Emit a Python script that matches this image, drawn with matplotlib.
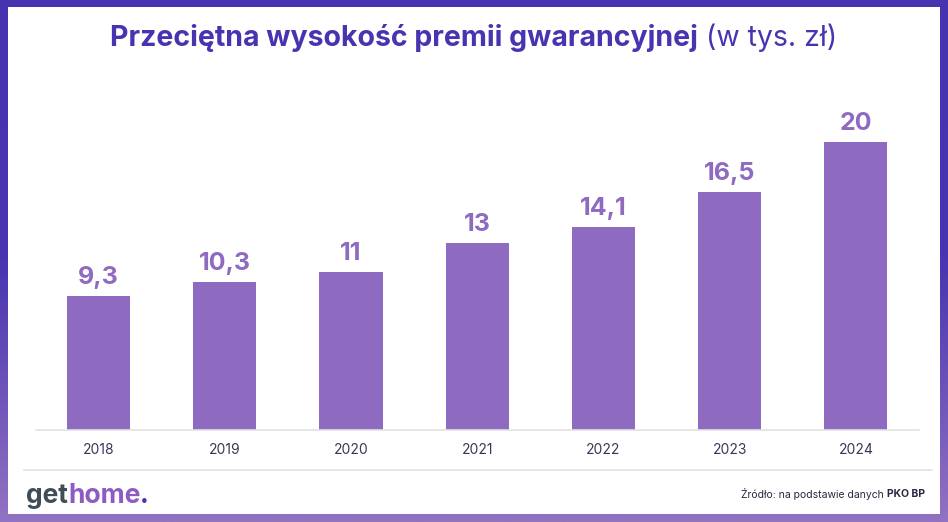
#!/usr/bin/env python3
import matplotlib
matplotlib.use("Agg")
import matplotlib.pyplot as plt
import numpy as np
from matplotlib.colors import LinearSegmentedColormap
from matplotlib.patches import Rectangle

# --- [ average guarantee premium, bar chart ] ---

YEARS = ["2018", "2019", "2020", "2021", "2022", "2023", "2024"]
VALUES = [9.3, 10.3, 11, 13, 14.1, 16.5, 20]
VALUE_LABELS = ["9,3", "10,3", "11", "13", "14,1", "16,5", "20"]

TITLE_BOLD = "Przeciętna wysokość premii gwarancyjnej"
TITLE_LIGHT = " (w tys. zł)"
SOURCE_REGULAR = "Źródło: na podstawie danych "
SOURCE_BOLD = "PKO BP"

# style
FONT = ["Inter", "DejaVu Sans"]
DARK_PURPLE = "#4634B0"
BAR_COLOR = "#8E6AC0"
TICK_COLOR = "#3B3658"
LINE_COLOR = "#E2E2E2"
W, H = 948, 522

plt.rcParams["font.family"] = FONT


def px_x(x):
    return x / W


def px_y(y):
    return 1 - y / H


def text_width(fig, t):
    renderer = fig.canvas.get_renderer()
    bb = t.get_window_extent(renderer=renderer)
    return bb.width


def draw_runs(fig, runs, x, y, align="center"):
    # runs: list of (text, kwargs); drawn side by side
    items = [fig.text(0, y, s, va="center", ha="left", **kw) for s, kw in runs]
    widths = [text_width(fig, t) for t in items]
    total = sum(widths)
    if align == "center":
        start = x * W - total / 2
    elif align == "right":
        start = x * W - total
    else:
        start = x * W
    for t, w in zip(items, widths):
        t.set_x(start / W)
        start += w


fig = plt.figure(figsize=(W / 100, H / 100), dpi=100)

# gradient frame
bg = fig.add_axes([0, 0, 1, 1], zorder=-5)
cmap = LinearSegmentedColormap.from_list(
    "frame", [(0.0, "#4633B0"), (0.5, "#4835B0"), (1.0, "#9272C2")]
)
grad = np.linspace(0, 1, 256).reshape(-1, 1)
bg.imshow(grad, aspect="auto", cmap=cmap, extent=(0, 1, 0, 1), origin="upper")
bg.add_patch(Rectangle((px_x(8), px_y(514)), px_x(932), 507 / H,
                       facecolor="white", edgecolor="none"))
bg.set_xlim(0, 1)
bg.set_ylim(0, 1)
bg.axis("off")

# bars
ax = fig.add_axes([px_x(35.5), px_y(430), px_x(883.5), 340 / H])
x = np.arange(len(YEARS))
bars = ax.bar(x, VALUES, width=0.5, color=BAR_COLOR, zorder=2)
for rect, label in zip(bars, VALUE_LABELS):
    ax.annotate(label, (rect.get_x() + rect.get_width() / 2, rect.get_height()),
                xytext=(0, 5), textcoords="offset points", ha="center", va="bottom",
                fontsize=18, fontweight="bold", color=BAR_COLOR)

ax.set_xlim(-0.5, len(YEARS) - 0.5)
ax.set_ylim(0, 340 / 14.4)
ax.set_xticks(x, YEARS)
ax.tick_params(axis="x", length=0, pad=9, labelsize=10, labelcolor=TICK_COLOR)
ax.set_yticks([])
for side in ["top", "right", "left"]:
    ax.spines[side].set_visible(False)
ax.spines["bottom"].set_color(LINE_COLOR)
ax.spines["bottom"].set_linewidth(1.2)
ax.patch.set_alpha(0)

# separator above footer
fig.add_artist(plt.Line2D([px_x(24), px_x(932)], [px_y(470), px_y(470)],
                          color=LINE_COLOR, linewidth=1.2))

# title
draw_runs(fig, [
    (TITLE_BOLD, dict(fontsize=20.5, fontweight="bold", color=DARK_PURPLE)),
    (TITLE_LIGHT, dict(fontsize=20.5, fontweight="normal", color=DARK_PURPLE)),
], 0.5, px_y(38), align="center")

# logo
draw_runs(fig, [
    ("get", dict(fontsize=19, fontweight="bold", color="#3E4D58")),
    ("home", dict(fontsize=19, fontweight="bold", color="#8C5CC2")),
    (".", dict(fontsize=19, fontweight="bold", color=DARK_PURPLE)),
], px_x(26), px_y(496), align="left")

# source
draw_runs(fig, [
    (SOURCE_REGULAR, dict(fontsize=7.5, color="#2B2740")),
    (SOURCE_BOLD, dict(fontsize=7.5, fontweight="bold", color="#2B2740")),
], px_x(925), px_y(494), align="right")

fig.savefig("out.png", dpi=100)
plt.close(fig)
